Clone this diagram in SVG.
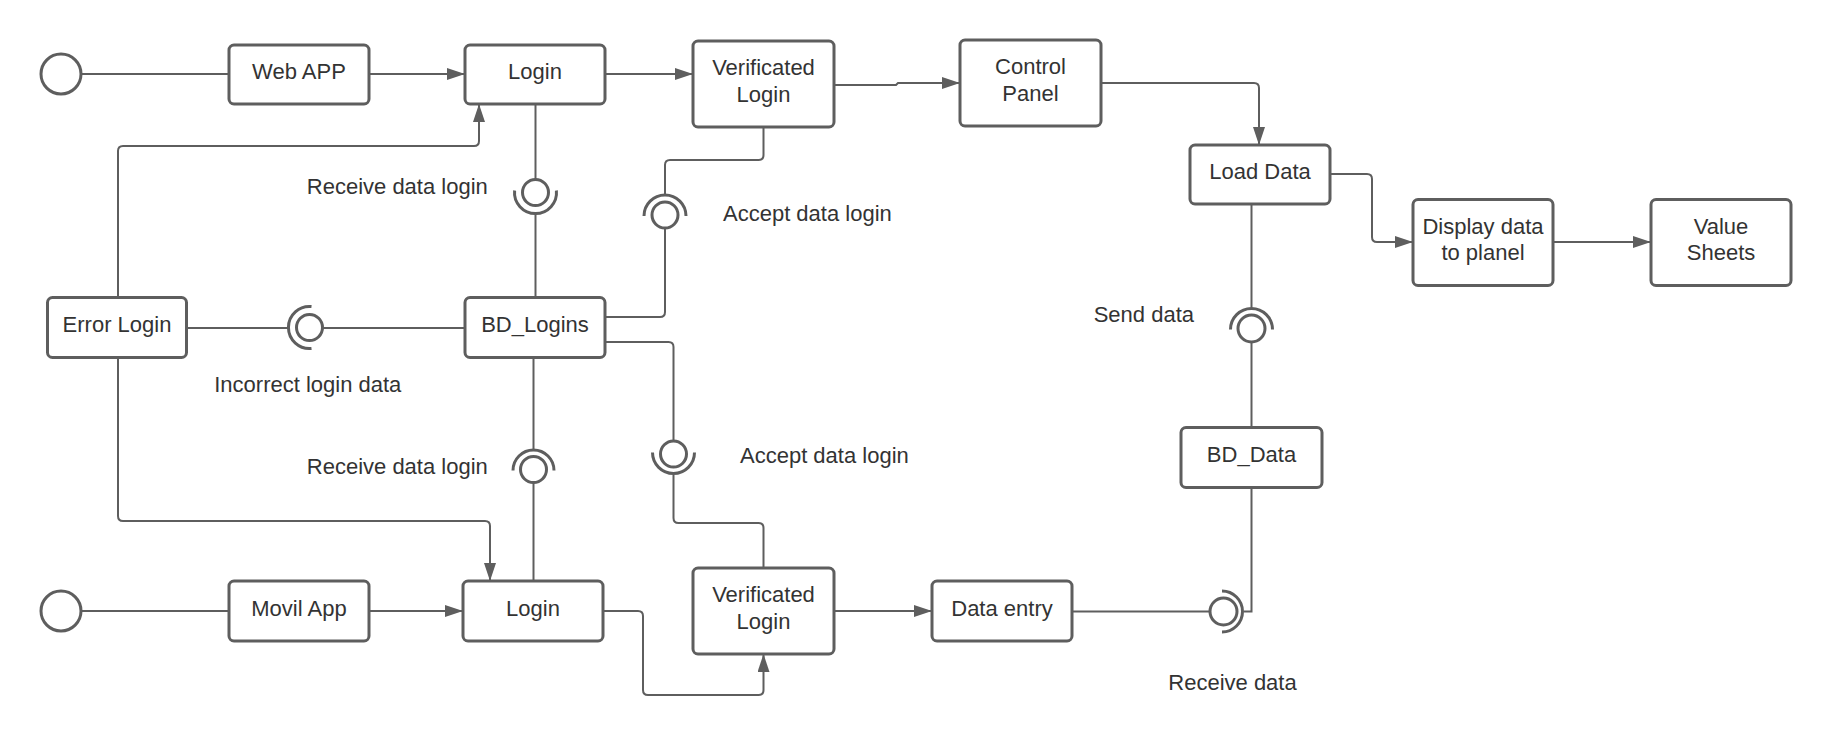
<svg xmlns="http://www.w3.org/2000/svg" width="1831" height="754" viewBox="0 0 1831 754">
<defs>
<style>
.box{fill:#ffffff;stroke:#5e5e5e;stroke-width:3}
.start{fill:#ffffff;stroke:#5e5e5e;stroke-width:3}
.t{font-family:"Liberation Sans",Arial,sans-serif;font-size:22px;fill:#333333}
.m{text-anchor:middle}
.c{fill:none;stroke:#5e5e5e;stroke-width:2}
.ball{fill:#ffffff;stroke:#5e5e5e;stroke-width:3}
.sock{fill:none;stroke:#5e5e5e;stroke-width:3}
</style>
<marker id="arr" markerUnits="userSpaceOnUse" markerWidth="18" markerHeight="12" refX="18" refY="6" orient="auto">
<path d="M0,0 L18,6 L0,12 z" fill="#5e5e5e"/>
</marker>
</defs>
<rect width="1831" height="754" fill="#ffffff"/>

<g id="connectors">
<path class="c" d="M81,74 H229"/>
<path class="c" d="M369,74 H465" marker-end="url(#arr)"/>
<path class="c" d="M605,74 H693" marker-end="url(#arr)"/>
<path class="c" d="M834,85 H896 L898,83 H960" marker-end="url(#arr)"/>
<path class="c" d="M1101,83 H1254 Q1259,83 1259,88 V145" marker-end="url(#arr)"/>
<path class="c" d="M1330,174 H1367 Q1372,174 1372,179 V237 Q1372,242 1377,242 H1413" marker-end="url(#arr)"/>
<path class="c" d="M1553,242 H1651" marker-end="url(#arr)"/>
<path class="c" d="M118,297.5 V151 Q118,146 123,146 H474 Q479,146 479,141 V104" marker-end="url(#arr)"/>
<path class="c" d="M118,357.5 V516 Q118,521 123,521 H485 Q490,521 490,526 V581" marker-end="url(#arr)"/>
<path class="c" d="M465,328 H322.5"/>
<path class="c" d="M186.5,328 H288.5"/>
<path class="c" d="M535.5,104 V179.5"/>
<path class="c" d="M535.5,213.5 V297.5"/>
<path class="c" d="M763.5,127 V155 Q763.5,160 758.5,160 H670 Q665,160 665,165 V194"/>
<path class="c" d="M665,228 V312 Q665,317 660,317 H605"/>
<path class="c" d="M605,342 H668.5 Q673.5,342 673.5,347 V441"/>
<path class="c" d="M673.5,475 V518 Q673.5,523 678.5,523 H758.5 Q763.5,523 763.5,528 V568"/>
<path class="c" d="M533.5,357.5 V449"/>
<path class="c" d="M533.5,482.5 V581"/>
<path class="c" d="M81,611 H229"/>
<path class="c" d="M369,611 H463" marker-end="url(#arr)"/>
<path class="c" d="M603,611 H638 Q643,611 643,616 V690 Q643,695 648,695 H758.5 Q763.5,695 763.5,690 V654" marker-end="url(#arr)"/>
<path class="c" d="M834,611 H932" marker-end="url(#arr)"/>
<path class="c" d="M1072,611.5 H1210"/>
<path class="c" d="M1244,611.5 H1251.5 V488"/>
<path class="c" d="M1251.5,427.5 V342"/>
<path class="c" d="M1251.5,307.5 V204"/>
</g>

<g id="iface-receive-login-top">
<circle class="ball" cx="535.5" cy="192.5" r="13"/>
<path class="sock" d="M514.6,190.5 A21,21 0 1 0 556.4,190.5"/>
</g>
<g id="iface-accept-login-top">
<circle class="ball" cx="665" cy="215" r="13"/>
<path class="sock" d="M644,216 A21,21 0 1 1 686,216"/>
</g>
<g id="iface-incorrect-login">
<circle class="ball" cx="309.5" cy="327.5" r="13"/>
<path class="sock" d="M311.5,306.6 A21,21 0 1 0 311.5,348.4"/>
</g>
<g id="iface-accept-login-bottom">
<circle class="ball" cx="673.5" cy="454" r="13"/>
<path class="sock" d="M652.5,452.5 A21,21 0 1 0 694.5,452.5"/>
</g>
<g id="iface-receive-login-bottom">
<circle class="ball" cx="533.5" cy="469.5" r="13"/>
<path class="sock" d="M513,470.5 A20.5,20.5 0 1 1 554,470.5"/>
</g>
<g id="iface-send-data">
<circle class="ball" cx="1251.5" cy="328.5" r="13.5"/>
<path class="sock" d="M1230.5,329.5 A21,21 0 1 1 1272.5,329.5"/>
</g>
<g id="iface-receive-data">
<circle class="ball" cx="1223.5" cy="611.5" r="13.5"/>
<path class="sock" d="M1222,591 A20.5,20.5 0 1 1 1222,632"/>
</g>

<g id="start-web"><circle class="start" cx="61" cy="74" r="20"/></g>
<g id="start-movil"><circle class="start" cx="61" cy="611" r="20"/></g>

<g id="web-app"><rect class="box" x="229" y="45" width="140" height="59" rx="5"/><text class="t m" x="299" y="79">Web APP</text></g>
<g id="login-top"><rect class="box" x="465" y="45" width="140" height="59" rx="5"/><text class="t m" x="535" y="79">Login</text></g>
<g id="verificated-top"><rect class="box" x="693" y="41" width="141" height="86" rx="5"/><text class="t m" x="763.5" y="75">Verificated</text><text class="t m" x="763.5" y="101.7">Login</text></g>
<g id="control-panel"><rect class="box" x="960" y="40" width="141" height="86" rx="5"/><text class="t m" x="1030.5" y="74">Control</text><text class="t m" x="1030.5" y="100.7">Panel</text></g>
<g id="load-data"><rect class="box" x="1190" y="145" width="140" height="59" rx="5"/><text class="t m" x="1260" y="179">Load Data</text></g>
<g id="display-data"><rect class="box" x="1413" y="199.5" width="140" height="86" rx="5"/><text class="t m" x="1483" y="233.5">Display data</text><text class="t m" x="1483" y="260.2">to planel</text></g>
<g id="value-sheets"><rect class="box" x="1651" y="199.5" width="140" height="86" rx="5"/><text class="t m" x="1721" y="233.5">Value</text><text class="t m" x="1721" y="260.2">Sheets</text></g>
<g id="error-login"><rect class="box" x="47.5" y="297.5" width="139" height="60" rx="5"/><text class="t m" x="117" y="332.2">Error Login</text></g>
<g id="bd-logins"><rect class="box" x="465" y="297.5" width="140" height="60" rx="5"/><text class="t m" x="535" y="332.2">BD_Logins</text></g>
<g id="bd-data"><rect class="box" x="1181" y="427.5" width="141" height="60" rx="5"/><text class="t m" x="1251.5" y="462.2">BD_Data</text></g>
<g id="movil-app"><rect class="box" x="229" y="581" width="140" height="60" rx="5"/><text class="t m" x="299" y="615.7">Movil App</text></g>
<g id="login-bottom"><rect class="box" x="463" y="581" width="140" height="60" rx="5"/><text class="t m" x="533" y="615.7">Login</text></g>
<g id="verificated-bottom"><rect class="box" x="693" y="568" width="141" height="86" rx="5"/><text class="t m" x="763.5" y="602">Verificated</text><text class="t m" x="763.5" y="628.7">Login</text></g>
<g id="data-entry"><rect class="box" x="932" y="581" width="140" height="60" rx="5"/><text class="t m" x="1002" y="615.7">Data entry</text></g>

<g id="labels">
<text class="t m" x="397.3" y="194">Receive data login</text>
<text class="t m" x="397.3" y="474">Receive data login</text>
<text class="t m" x="307.8" y="392">Incorrect login data</text>
<text class="t" x="723" y="221">Accept data login</text>
<text class="t" x="740" y="463">Accept data login</text>
<text class="t" x="1194" y="322" text-anchor="end">Send data</text>
<text class="t m" x="1232.5" y="690">Receive data</text>
</g>
</svg>
